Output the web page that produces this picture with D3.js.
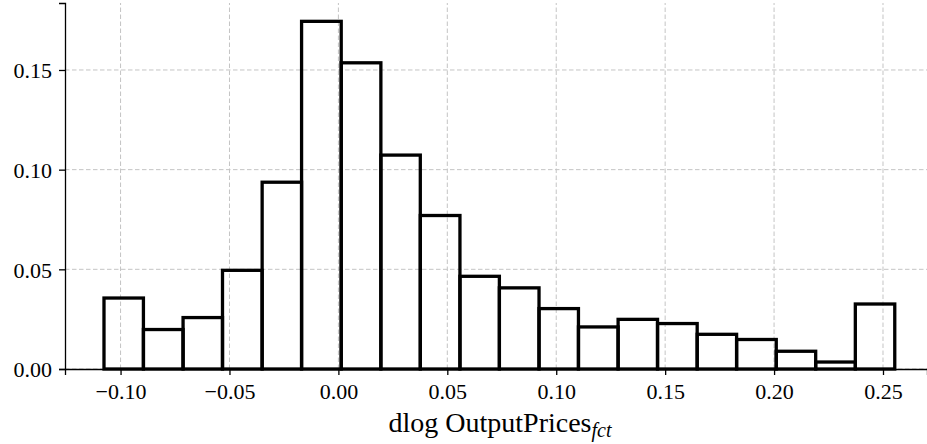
<!DOCTYPE html>
<html>
<head>
<meta charset="utf-8">
<script src="https://cdn.jsdelivr.net/npm/d3@7"></script>
<style>
  body { margin: 0; background: #fff; }
  svg { display: block; }
</style>
</head>
<body>
<div id="drawArea"></div>
<script>
// Bin edges (x values)
var binEdges = [-0.1076, -0.0895, -0.0713, -0.0532, -0.0350, -0.0169, 0.0013, 0.0195,
    0.0376, 0.0558, 0.0739, 0.0921, 0.1102, 0.1284, 0.1465, 0.1647, 0.1828, 0.2010,
    0.2191, 0.2373, 0.2554];
// Bar heights (share of observations)
var binHeights = [0.0356, 0.0198, 0.0258, 0.0495, 0.0937, 0.1744, 0.1536, 0.1073,
    0.0770, 0.0465, 0.0407, 0.0303, 0.0211, 0.0249, 0.0228, 0.0174, 0.0148, 0.0089,
    0.0035, 0.0326];
var xTicks = [-0.10, -0.05, 0.00, 0.05, 0.10, 0.15, 0.20, 0.25];
var yTicks = [0.00, 0.05, 0.10, 0.15];
var xDomain = [-0.1255, 0.2702];
var yDomain = [0, 0.1836];

var serif = 'Liberation Serif';
var width = 927, height = 444;
var margin = {top: 3, right: 0, bottom: 75, left: 65};

var bins = binHeights.map(function (h, i) {
    return {x0: binEdges[i], x1: binEdges[i + 1], h: h};
});

var svg = d3.select('#drawArea')
    .append('svg')
    .attr('width', width)
    .attr('height', height);

var x = d3.scaleLinear()
    .domain(xDomain)
    .range([margin.left, width - margin.right]);

var y = d3.scaleLinear()
    .domain(yDomain)
    .range([height - margin.bottom, margin.top]);

// grid lines
var grid = svg.append('g')
    .attr('stroke', '#c4c4c4')
    .attr('stroke-width', 1)
    .attr('stroke-dasharray', '4.5,2.5');

grid.selectAll('.gx')
    .data(xTicks)
    .enter()
    .append('line')
    .attr('x1', function (d) { return x(d); })
    .attr('x2', function (d) { return x(d); })
    .attr('y1', y.range()[0])
    .attr('y2', y.range()[1]);

grid.selectAll('.gy')
    .data(yTicks)
    .enter()
    .append('line')
    .attr('x1', x.range()[0])
    .attr('x2', x.range()[1])
    .attr('y1', function (d) { return y(d); })
    .attr('y2', function (d) { return y(d); });

// histogram bars, outline only
svg.append('g')
    .selectAll('rect')
    .data(bins)
    .enter()
    .append('rect')
    .attr('x', function (d) { return x(d.x0); })
    .attr('y', function (d) { return y(d.h); })
    .attr('width', function (d) { return x(d.x1) - x(d.x0); })
    .attr('height', function (d) { return y(0) - y(d.h); })
    .attr('fill', 'none')
    .attr('stroke', '#000')
    .attr('stroke-width', 3.3);

// axes
var xAxis = svg.append('g')
    .attr('transform', 'translate(0,' + y(0) + ')')
    .call(d3.axisBottom(x)
        .tickValues(xTicks)
        .tickFormat(d3.format('.2f'))
        .tickSize(6)
        .tickPadding(8));

var yAxis = svg.append('g')
    .attr('transform', 'translate(' + x.range()[0] + ',0)')
    .call(d3.axisLeft(y)
        .tickValues(yTicks)
        .tickFormat(d3.format('.2f'))
        .tickSize(6)
        .tickPadding(7));

[xAxis, yAxis].forEach(function (ax) {
    ax.attr('font-family', serif).attr('font-size', 22);
    ax.select('.domain').attr('stroke', '#000').attr('stroke-width', 1.3);
    ax.selectAll('.tick line').attr('stroke', '#000').attr('stroke-width', 1.3);
    ax.selectAll('.tick text').attr('fill', '#000');
});
yAxis.selectAll('.tick text').attr('dy', '0.35em');

// x label with subscript
var label = svg.append('text')
    .attr('x', (x.range()[0] + x.range()[1]) / 2 + 4)
    .attr('y', 432)
    .attr('text-anchor', 'middle')
    .attr('font-family', serif)
    .attr('font-size', 28)
    .attr('fill', '#000');
label.append('tspan').text('dlog OutputPrices');
label.append('tspan')
    .attr('dy', 5)
    .attr('font-size', 20)
    .attr('font-style', 'italic')
    .text('fct');
</script>
</body>
</html>
